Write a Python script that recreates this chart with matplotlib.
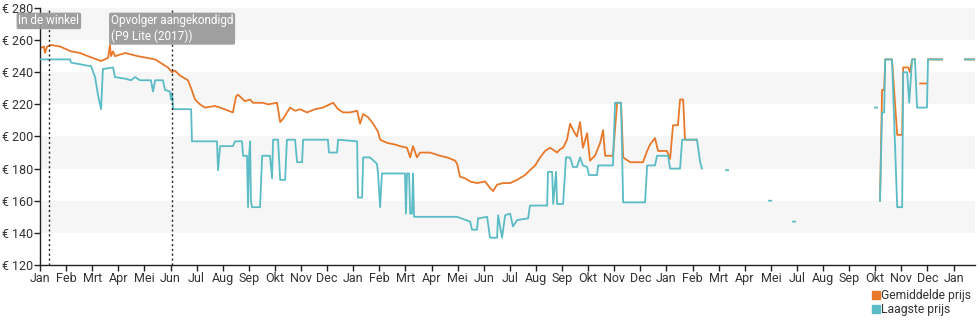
import numpy as np
import matplotlib
matplotlib.use('Agg')
import matplotlib.pyplot as plt
from matplotlib.lines import Line2D

plt.rcParams['font.family'] = ['Roboto', 'DejaVu Sans']

nan = np.nan

# month labels on the axis (the third year has no "Jun" tick)
month_labels = ['Jan', 'Feb', 'Mrt', 'Apr', 'Mei', 'Jun', 'Jul', 'Aug', 'Sep', 'Okt', 'Nov', 'Dec',
                'Jan', 'Feb', 'Mrt', 'Apr', 'Mei', 'Jun', 'Jul', 'Aug', 'Sep', 'Okt', 'Nov', 'Dec',
                'Jan', 'Feb', 'Mrt', 'Apr', 'Mei', 'Jul', 'Aug', 'Sep', 'Okt', 'Nov', 'Dec', 'Jan']

# Gemiddelde prijs (position in months, price in euro)
avg_x = [0.00, 0.15, 0.19, 0.27, 0.42, 0.77, 1.19, 1.53, 1.84, 2.34, 2.61, 2.68, 2.72, 2.80, 2.87,
         3.26, 3.75, 4.41, 4.90, 5.06, 5.17, 5.36, 5.67, 5.79, 5.94, 6.13, 6.32, 6.70, 6.90, 7.39,
         7.51, 7.59, 7.85, 8.05, 8.16, 8.54, 8.74, 9.08, 9.20, 9.31, 9.58, 9.77, 9.96, 10.23, 10.54,
         10.84, 11.23, 11.42, 11.61, 11.88, 12.15, 12.26, 12.38, 12.57, 12.76, 12.95, 13.03, 13.30,
         13.60, 13.79, 14.06, 14.18, 14.29, 14.44, 14.56, 14.94, 15.33, 15.59, 15.90, 15.98, 16.09,
         16.28, 16.48, 16.74, 17.05, 17.24, 17.36, 17.51, 17.74, 18.01, 18.28, 18.58, 18.77, 18.97,
         19.16, 19.35, 19.54, 19.81, 19.92, 20.04, 20.19, 20.31, 20.42, 20.57, 20.69, 20.80, 20.96,
         21.07, 21.26, 21.46, 21.57, 21.65, 21.95, 22.11, 22.26, 22.34, 22.61, 23.10, 23.26, 23.37,
         23.56, 23.68, 24.02, 24.14, 24.25, 24.44, 24.52, 24.64, 24.71, 25.17, nan,
         32.18, 32.26, 32.34, 32.38, 32.64, 32.84, 33.03, 33.07, 33.26, 33.33, 33.41, 33.52, nan,
         33.72, 33.95, nan, 34.02, 34.56, nan, 35.44, 35.82]
avg_y = [255, 256, 252, 256, 257, 256, 253, 252, 250, 247, 249, 257, 250, 253, 250,
         252, 250, 248, 243, 240, 241, 238, 235, 230, 223, 220, 218, 219, 218, 215,
         225, 226, 222, 223, 221, 221, 220, 221, 209, 211, 218, 216, 217, 215, 217,
         218, 221, 217, 215, 215, 216, 208, 214, 212, 208, 203, 198, 196,
         195, 194, 193, 187, 194, 187, 190, 190, 188, 187, 185, 183, 175,
         174, 172, 171, 172, 168, 166, 170, 171, 171, 173, 176, 179, 182,
         187, 191, 193, 190, 192, 193, 198, 208, 204, 200, 209, 193, 202,
         185, 188, 196, 204, 188, 188, 221, 221, 187, 184, 184, 191, 195,
         199, 191, 191, 186, 207, 207, 223, 223, 198, 198, nan,
         160, 229, 229, 248, 248, 201, 201, 243, 243, 240, 248, 248, nan,
         233, 233, nan, 248, 248, nan, 248, 248]

# Laagste prijs
low_x = [0.00, 1.15, 1.19, 1.53, 1.84, 1.95, 2.11, 2.22, 2.34, 2.41, 2.80, 2.87, 3.26, 3.49, 3.64,
         3.83, 4.25, 4.33, 4.41, 4.71, 4.79, 4.98, 5.02, 5.06, 5.10, 5.79, 5.82, 6.78, 6.82, 6.90,
         7.39, 7.47, 7.74, 7.78, 7.93, 7.97, 8.01, 8.05, 8.08, 8.12, 8.43, 8.51, 8.81, 8.89, 8.93,
         9.12, 9.20, 9.39, 9.46, 9.77, 9.85, 10.04, 10.08, 11.03, 11.07, 11.38, 11.42, 12.15, 12.18,
         12.34, 12.38, 12.64, 12.91, 12.95, 13.03, 13.10, 13.98, 14.02, 14.06, 14.14, 14.18, 14.25,
         14.29, 14.33, 15.98, 16.48, 16.55, 16.74, 16.78, 17.13, 17.24, 17.51, 17.55, 17.70, 17.82,
         18.01, 18.12, 18.28, 18.70, 18.77, 19.43, 19.46, 19.62, 19.66, 19.77, 19.81, 20.04, 20.15,
         20.31, 20.42, 20.57, 20.69, 20.80, 20.96, 21.03, 21.34, 21.38, 21.95, 22.03, 22.26, 22.34,
         23.18, 23.26, 23.56, 23.64, 24.06, 24.14, 24.52, 24.60, 25.17, 25.29, 25.36, nan,
         26.28, 26.36, nan, 27.93, 28.01, nan, 28.85, 28.93, nan, 31.99, 32.07, nan,
         32.18, 32.26, 32.34, 32.38, 32.64, 32.84, 33.03, 33.07, 33.22, 33.30, 33.41, 33.52, 33.60,
         33.98, 34.02, 34.56, nan, 35.44, 35.82]
low_y = [248, 248, 246, 245, 244, 244, 237, 226, 217, 242, 243, 237, 236, 235, 237,
         235, 235, 228, 235, 235, 229, 228, 223, 227, 217, 217, 197, 197, 179, 194,
         194, 197, 197, 188, 188, 156, 188, 197, 160, 156, 156, 188, 188, 174, 198,
         198, 173, 173, 198, 198, 184, 184, 198, 198, 190, 190, 198, 197, 162,
         162, 187, 187, 183, 177, 156, 177, 177, 152, 177, 177, 152, 152,
         177, 150, 150, 147, 142, 142, 149, 150, 137, 137, 151, 137, 151,
         152, 144, 148, 149, 157, 157, 178, 178, 158, 178, 158, 158, 187,
         187, 181, 181, 187, 182, 181, 176, 176, 182, 182, 221, 221, 159,
         159, 182, 182, 188, 188, 180, 180, 198, 198, 184, 180, nan,
         179, 179, nan, 160, 160, nan, 147, 147, nan, 218, 218, nan,
         160, 215, 215, 248, 248, 156, 156, 240, 240, 221, 248, 248, 218,
         218, 248, 248, nan, 248, 248]

# events: (position in months, label)
event_x = [0.34, 5.06]
event_labels = ['In de winkel', 'Opvolger aangekondigd\n(P9 Lite (2017))']

orange = '#e8782a'
teal = '#5bbcc6'
text_color = '#333333'

fig = plt.figure(figsize=(9.8, 3.25), dpi=100)
ax = fig.add_axes([40 / 980, 1 - 265 / 325, 935 / 980, 257 / 325])

ax.set_xlim(0, 35.82)
ax.set_ylim(120, 280)

# alternating light bands
for lo in range(140, 280, 40):
    ax.axhspan(lo, lo + 20, color='#f6f6f6', zorder=0, lw=0)

ax.plot(low_x, low_y, color=teal, lw=1.3, zorder=3)
ax.plot(avg_x, avg_y, color=orange, lw=1.3, zorder=2)

for ex, lab in zip(event_x, event_labels):
    ax.axvline(ex, color='#222222', lw=1, ls=(0, (1.5, 2)), zorder=4)
    ax.text(ex, 0.975, lab, transform=ax.get_xaxis_transform(), ha='center', va='top',
            multialignment='left', color='white', fontsize=8.5, zorder=5, clip_on=False,
            bbox=dict(boxstyle='round,pad=0.15', fc='#9a9a9a', ec='none', alpha=0.95))

ax.set_yticks(range(120, 281, 20))
ax.set_yticklabels([f'€ {v}' for v in range(120, 281, 20)])
ax.set_xticks(range(len(month_labels)))
ax.set_xticklabels(month_labels)
ax.tick_params(axis='both', direction='out', length=4, width=1, colors='#222222',
               labelcolor=text_color, labelsize=9, pad=1)

for s in ['top', 'right']:
    ax.spines[s].set_visible(False)
for s in ['left', 'bottom']:
    ax.spines[s].set_color('#222222')
    ax.spines[s].set_linewidth(1)

handles = [Line2D([], [], ls='none', marker='s', markersize=5.5, color=orange),
           Line2D([], [], ls='none', marker='s', markersize=5.5, color=teal)]
fig.legend(handles, ['Gemiddelde prijs', 'Laagste prijs'], loc='lower right',
           bbox_to_anchor=(1.0, 0.0), frameon=False, fontsize=8.7, handlelength=0.5,
           handletextpad=0.15, labelspacing=0.1, borderpad=0.25, labelcolor=text_color)

fig.savefig('out.png', dpi=100)
